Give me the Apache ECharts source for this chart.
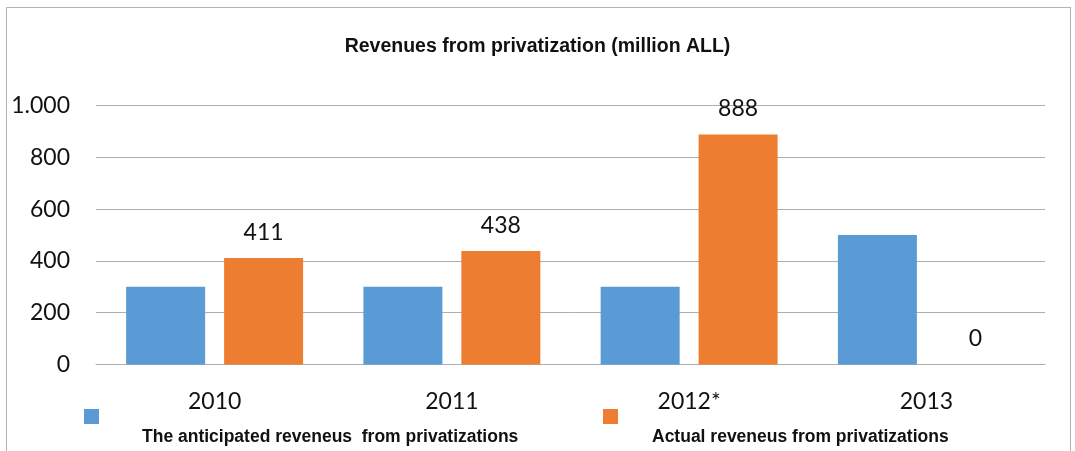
<!DOCTYPE html>
<html>
<head>
<meta charset="utf-8">
<script src="https://cdn.jsdelivr.net/npm/echarts@6/dist/echarts.min.js"></script>
<style>
  html, body { margin: 0; padding: 0; background: #ffffff; }
  #wrap { position: relative; width: 1075px; height: 451px; overflow: hidden; }
  #frame { position: absolute; left: 6px; top: 7px; width: 1065px; height: 470px; border: 1px solid #b4b4b4; box-sizing: border-box; }
  #chart { position: absolute; left: 0; top: 0; width: 1075px; height: 451px; }
</style>
</head>
<body>
<div id="wrap">
  <div id="frame"></div>
  <div id="chart"></div>
</div>
<script>
// Revenues from privatization, million ALL
const titleText = 'Revenues from privatization (million ALL)';
const years = ['2010', '2011', '2012*', '2013'];
const seriesNames = ['The anticipated reveneus  from privatizations', 'Actual reveneus from privatizations'];
const anticipated = [300, 300, 300, 500];
const actual = [411, 438, 888, 0];
const yTicks = [0, 200, 400, 600, 800, 1000];

const numFont = 'Lato, "Open Sans", sans-serif';
const boldFont = '"Liberation Sans", Arial, sans-serif';

// thousands separated with a dot
function fmt(v) {
  return String(v).replace(/\B(?=(\d{3})+(?!\d))/g, '.');
}

// legend entry: square marker with its caption set below and to the right
function legendFor(name, left, indent) {
  return {
    data: [name],
    left: left, top: 409,
    padding: 0,
    icon: 'rect', itemWidth: 15, itemHeight: 15,
    selectedMode: false,
    formatter: n => '{t|' + n + '}',
    textStyle: {
      rich: {
        t: {
          fontFamily: boldFont, fontWeight: 'bold', fontSize: 17.5, color: '#111111',
          padding: [42, 0, 0, indent]
        }
      }
    }
  };
}

const chart = echarts.init(document.getElementById('chart'), null, { renderer: 'canvas' });

chart.setOption({
  animation: false,
  backgroundColor: 'transparent',
  title: {
    text: titleText,
    left: 'center',
    top: 32,
    textStyle: { fontFamily: boldFont, fontWeight: 'bold', fontSize: 19.5, color: '#111111' }
  },
  legend: [
    legendFor(seriesNames[0], 84, 38),
    legendFor(seriesNames[1], 603, 29)
  ],
  grid: { left: 96, right: 30, top: 105.5, bottom: 86.5, containLabel: false },
  xAxis: {
    type: 'category',
    data: years,
    axisLine: { lineStyle: { color: '#aeaeae', width: 1 } },
    axisTick: { show: false },
    axisLabel: { margin: 26, fontFamily: numFont, fontSize: 23, color: '#111111' }
  },
  yAxis: {
    type: 'value',
    min: yTicks[0],
    max: yTicks[yTicks.length - 1],
    interval: yTicks[1] - yTicks[0],
    axisLine: { show: false },
    axisTick: { show: false },
    splitLine: { lineStyle: { color: '#aeaeae', width: 1 } },
    axisLabel: { margin: 26, fontFamily: numFont, fontSize: 23, color: '#111111', formatter: fmt }
  },
  series: [
    {
      name: seriesNames[0],
      type: 'bar',
      data: anticipated,
      barWidth: 79,
      barGap: '24%',
      itemStyle: { color: '#5b9bd5' }
    },
    {
      name: seriesNames[1],
      type: 'bar',
      data: actual,
      barWidth: 79,
      itemStyle: { color: '#ed7d31' },
      label: {
        show: true,
        position: 'top',
        distance: 14,
        fontFamily: numFont,
        fontSize: 23,
        color: '#111111',
        formatter: p => fmt(p.value)
      }
    }
  ]
});
</script>
</body>
</html>
